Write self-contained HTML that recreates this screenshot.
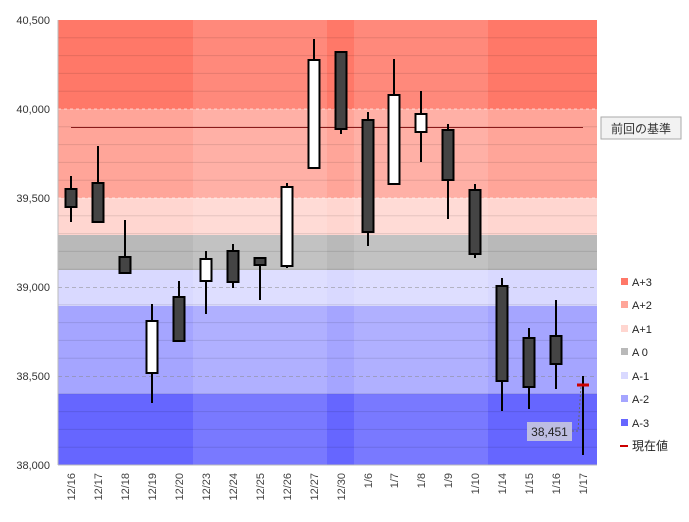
<!DOCTYPE html>
<html><head><meta charset="utf-8"><style>body{margin:0;background:#fff}svg{display:block;font-family:"Liberation Sans","Noto Sans CJK JP",sans-serif}</style></head><body>
<svg width="689" height="522" viewBox="0 0 689 522">
<!-- bands -->
<rect x="58" y="20" width="539" height="89" fill="#ff7868"/>
<rect x="58" y="109" width="539" height="89" fill="#ffa599"/>
<rect x="58" y="198" width="539" height="37" fill="#ffd6d0"/>
<rect x="58" y="235" width="539" height="35" fill="#b9b9b9"/>
<rect x="58" y="270" width="539" height="36" fill="#d9d9ff"/>
<rect x="58" y="306" width="539" height="88" fill="#a5a5ff"/>
<rect x="58" y="394" width="539" height="71" fill="#6666ff"/>
<!-- lighter columns -->
<rect x="193" y="20" width="134" height="445" fill="#fff" opacity="0.13"/>
<rect x="354" y="20" width="134" height="445" fill="#fff" opacity="0.13"/>
<!-- gridlines -->
<g stroke="#000" stroke-opacity="0.1" stroke-width="1">
<line x1="58" x2="597" y1="37.8" y2="37.8"/><line x1="58" x2="597" y1="55.6" y2="55.6"/><line x1="58" x2="597" y1="73.4" y2="73.4"/><line x1="58" x2="597" y1="91.2" y2="91.2"/>
<line x1="58" x2="597" y1="126.8" y2="126.8"/><line x1="58" x2="597" y1="144.6" y2="144.6"/><line x1="58" x2="597" y1="162.4" y2="162.4"/><line x1="58" x2="597" y1="180.2" y2="180.2"/>
<line x1="58" x2="597" y1="215.8" y2="215.8"/><line x1="58" x2="597" y1="233.6" y2="233.6"/><line x1="58" x2="597" y1="251.4" y2="251.4"/><line x1="58" x2="597" y1="269.2" y2="269.2"/>
<line x1="58" x2="597" y1="304.8" y2="304.8"/><line x1="58" x2="597" y1="322.6" y2="322.6"/><line x1="58" x2="597" y1="340.4" y2="340.4"/><line x1="58" x2="597" y1="358.2" y2="358.2"/>
<line x1="58" x2="597" y1="393.8" y2="393.8"/><line x1="58" x2="597" y1="411.6" y2="411.6"/><line x1="58" x2="597" y1="429.4" y2="429.4"/><line x1="58" x2="597" y1="447.2" y2="447.2"/>
</g>
<g stroke="#fff" stroke-opacity="0.6" stroke-dasharray="3,3"><line x1="58" x2="597" y1="109" y2="109"/><line x1="58" x2="597" y1="198" y2="198"/></g>
<g stroke="#888" stroke-opacity="0.5" stroke-dasharray="4,3"><line x1="58" x2="597" y1="287.5" y2="287.5"/><line x1="58" x2="597" y1="376.5" y2="376.5"/></g>
<!-- axes -->
<line x1="58" y1="20" x2="58" y2="465" stroke="#bbb"/>
<line x1="58" y1="465" x2="597" y2="465" stroke="#bbb"/>
<g font-size="11" fill="#333" text-anchor="end">
<text x="50" y="24">40,500</text><text x="50" y="113">40,000</text><text x="50" y="202">39,500</text><text x="50" y="291">39,000</text><text x="50" y="380">38,500</text><text x="50" y="469">38,000</text>
</g>
<!-- reference line -->
<line x1="71" y1="127.5" x2="583" y2="127.5" stroke="#8b1a1a" stroke-width="1"/>
<rect x="601" y="117" width="80" height="22" fill="#f2f2f2" stroke="#aaa"/>
<text x="641" y="133" font-size="12" text-anchor="middle" fill="#333">前回の基準</text>
<!-- candles -->
<g stroke="#000" stroke-width="2">
<line x1="71" x2="71" y1="176" y2="222"/><rect x="65.5" y="189" width="11" height="18" fill="#444"/>
<line x1="98" x2="98" y1="146" y2="222"/><rect x="92.5" y="183" width="11" height="39" fill="#444"/>
<line x1="125" x2="125" y1="220" y2="273"/><rect x="119.5" y="257" width="11" height="16" fill="#444"/>
<line x1="152" x2="152" y1="304" y2="403"/><rect x="146.5" y="321" width="11" height="52" fill="#fff"/>
<line x1="179" x2="179" y1="281" y2="341"/><rect x="173.5" y="297" width="11" height="44" fill="#444"/>
<line x1="206" x2="206" y1="251" y2="314"/><rect x="200.5" y="259" width="11" height="22" fill="#fff"/>
<line x1="233" x2="233" y1="244" y2="288"/><rect x="227.5" y="251" width="11" height="31" fill="#444"/>
<line x1="260" x2="260" y1="257" y2="300"/><rect x="254.5" y="258" width="11" height="7" fill="#444"/>
<line x1="287" x2="287" y1="183" y2="268"/><rect x="281.5" y="187" width="11" height="79" fill="#fff"/>
<line x1="314" x2="314" y1="39" y2="168"/><rect x="308.5" y="60" width="11" height="108" fill="#fff"/>
<line x1="341" x2="341" y1="52" y2="134"/><rect x="335.5" y="52" width="11" height="77" fill="#444"/>
<line x1="368" x2="368" y1="112" y2="246"/><rect x="362.5" y="120" width="11" height="112" fill="#444"/>
<line x1="394" x2="394" y1="59" y2="184"/><rect x="388.5" y="95" width="11" height="89" fill="#fff"/>
<line x1="421" x2="421" y1="91" y2="162"/><rect x="415.5" y="114" width="11" height="18" fill="#fff"/>
<line x1="448" x2="448" y1="124" y2="219"/><rect x="442.5" y="130" width="11" height="50" fill="#444"/>
<line x1="475" x2="475" y1="184" y2="258"/><rect x="469.5" y="190" width="11" height="64" fill="#444"/>
<line x1="502" x2="502" y1="278" y2="411"/><rect x="496.5" y="286" width="11" height="95" fill="#444"/>
<line x1="529" x2="529" y1="328" y2="409"/><rect x="523.5" y="338" width="11" height="49" fill="#444"/>
<line x1="556" x2="556" y1="300" y2="389"/><rect x="550.5" y="336" width="11" height="28" fill="#444"/>
<line x1="583" x2="583" y1="376" y2="455"/>
</g>
<line x1="577" x2="589" y1="385" y2="385" stroke="#c00" stroke-width="3"/>
<path d="M572 431 L578 431 L581 386" stroke="#666" stroke-dasharray="2,2" fill="none"/>
<rect x="527" y="422" width="45" height="19" fill="#ccd" opacity="0.85"/>
<text x="549.5" y="436" font-size="12" text-anchor="middle" fill="#222">38,451</text>
<!-- x labels -->
<g font-size="11" fill="#444" text-anchor="end">
<text transform="translate(75,473) rotate(-90)">12/16</text>
<text transform="translate(102,473) rotate(-90)">12/17</text>
<text transform="translate(129,473) rotate(-90)">12/18</text>
<text transform="translate(156,473) rotate(-90)">12/19</text>
<text transform="translate(183,473) rotate(-90)">12/20</text>
<text transform="translate(210,473) rotate(-90)">12/23</text>
<text transform="translate(237,473) rotate(-90)">12/24</text>
<text transform="translate(264,473) rotate(-90)">12/25</text>
<text transform="translate(291,473) rotate(-90)">12/26</text>
<text transform="translate(318,473) rotate(-90)">12/27</text>
<text transform="translate(345,473) rotate(-90)">12/30</text>
<text transform="translate(372,473) rotate(-90)">1/6</text>
<text transform="translate(398,473) rotate(-90)">1/7</text>
<text transform="translate(425,473) rotate(-90)">1/8</text>
<text transform="translate(452,473) rotate(-90)">1/9</text>
<text transform="translate(479,473) rotate(-90)">1/10</text>
<text transform="translate(506,473) rotate(-90)">1/14</text>
<text transform="translate(533,473) rotate(-90)">1/15</text>
<text transform="translate(560,473) rotate(-90)">1/16</text>
<text transform="translate(587,473) rotate(-90)">1/17</text>
</g>
<!-- legend -->
<g font-size="11" fill="#222">
<rect x="621" y="278" width="7" height="7" fill="#ff7868"/><text x="632" y="286">A+3</text>
<rect x="621" y="301" width="7" height="7" fill="#ffa599"/><text x="632" y="309">A+2</text>
<rect x="621" y="325" width="7" height="7" fill="#ffd6d0"/><text x="632" y="333">A+1</text>
<rect x="621" y="348" width="7" height="7" fill="#b9b9b9"/><text x="632" y="356">A 0</text>
<rect x="621" y="372" width="7" height="7" fill="#d9d9ff"/><text x="632" y="380">A-1</text>
<rect x="621" y="395" width="7" height="7" fill="#a5a5ff"/><text x="632" y="403">A-2</text>
<rect x="621" y="419" width="7" height="7" fill="#6666ff"/><text x="632" y="427">A-3</text>
<rect x="620" y="445" width="8" height="2" fill="#c00"/><text x="632" y="450" font-size="12">現在値</text>
</g>
</svg>
</body></html>
